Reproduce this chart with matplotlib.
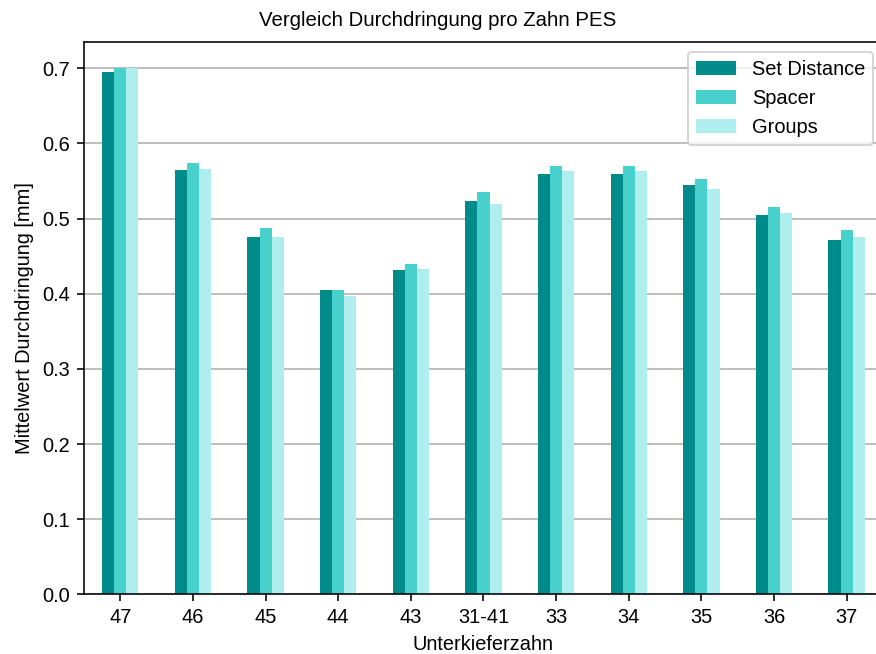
import numpy as np
import pandas as pd
import matplotlib
matplotlib.use("Agg")
import matplotlib.pyplot as plt

plt.rcParams['font.family'] = ['Liberation Sans', 'DejaVu Sans']
plt.rcParams['font.size'] = 10

# mittlere Durchdringung je Zahn [mm]
zaehne = ['47', '46', '45', '44', '43', '31-41', '33', '34', '35', '36', '37']
set_distance = [0.695, 0.564, 0.476, 0.405, 0.431, 0.524, 0.559, 0.559, 0.545, 0.505, 0.471]
spacer = [0.700, 0.574, 0.488, 0.405, 0.440, 0.536, 0.570, 0.570, 0.553, 0.515, 0.485]
groups = [0.700, 0.566, 0.476, 0.397, 0.433, 0.520, 0.563, 0.563, 0.539, 0.507, 0.475]

df = pd.DataFrame({'Set Distance': set_distance,
                   'Spacer': spacer,
                   'Groups': groups}, index=zaehne)

fig = plt.figure(figsize=(876 / 144, 654 / 144), dpi=144)
ax = fig.add_axes([0.0959, 0.0913, 0.912, 0.8445])

df.plot.bar(ax=ax, color=['darkcyan', 'mediumturquoise', 'paleturquoise'], rot=0)
ax.set_axisbelow(True)
ax.yaxis.grid(True, color='#b0b0b0', linewidth=0.8)

fig.suptitle('Vergleich Durchdringung pro Zahn PES', fontsize=10.2,
             x=0.5, y=0.968, va='center')
ax.set_xlabel('Unterkieferzahn')
ax.set_ylabel('Mittelwert Durchdringung [mm]')
ax.legend(loc='upper right')

fig.savefig('out.png', dpi=144)
